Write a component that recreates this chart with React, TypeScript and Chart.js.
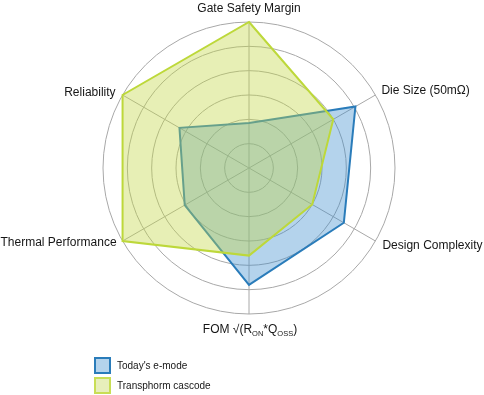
import React, { useEffect, useRef } from "react";
import { Chart, registerables } from "chart.js";

Chart.register(...registerables);

const categories = [
  "Gate Safety Margin",
  "Die Size (50mΩ)",
  "Design Complexity",
  "FOM",
  "Thermal Performance",
  "Reliability",
];
const eModeValues = [1.85, 5.05, 4.5, 4.8, 3.05, 3.3];
const cascodeValues = [6, 4.0, 3.0, 3.6, 6, 6];
const seriesNames = ["Today's e-mode", "Transphorm cascode"];
const scaleMax = 6;

const FONT = '"Liberation Sans", Arial, Helvetica, sans-serif';
const BLUE_LINE = "#2a7cba";
const BLUE_FILL = "rgba(58,140,205,0.38)";
const YEL_LINE = "#bdd83a";
const YEL_FILL = "rgba(195,215,70,0.4)";
const GRID = "#a8a8a8";

// per-label placement relative to the outer ring point: [dx, dy(baseline), align]
const labelPlacement: [number, number, CanvasTextAlign][] = [
  [0, -10, "center"],
  [6, -1, "left"],
  [7, 7.5, "left"],
  [1, 19, "center"],
  [-6, 5, "right"],
  [-7, 1, "right"],
];

const labelPlugin = {
  id: "radarLabels",
  afterDraw(chart: any) {
    const scale = chart.scales.r;
    const ctx = chart.ctx as CanvasRenderingContext2D;
    ctx.save();
    ctx.fillStyle = "#161616";
    ctx.textBaseline = "alphabetic";
    categories.forEach((label, i) => {
      const p = scale.getPointPosition(i, scale.drawingArea);
      const [dx, dy, align] = labelPlacement[i];
      const x = p.x + dx;
      const y = p.y + dy;
      if (i === 3) {
        const parts: [string, boolean][] = [
          ["FOM √(R", false],
          ["ON", true],
          ["*Q", false],
          ["OSS", true],
          [")", false],
        ];
        const widths = parts.map(([t, sub]) => {
          ctx.font = `${sub ? 7.5 : 12}px ${FONT}`;
          return ctx.measureText(t).width;
        });
        const total = widths.reduce((a, b) => a + b, 0);
        let cx = x - total / 2;
        ctx.textAlign = "left";
        parts.forEach(([t, sub], k) => {
          ctx.font = `${sub ? 7.5 : 12}px ${FONT}`;
          ctx.fillText(t, cx, y + (sub ? 2.5 : 0));
          cx += widths[k];
        });
      } else {
        ctx.font = `12px ${FONT}`;
        ctx.textAlign = align;
        ctx.fillText(label, x, y);
      }
    });
    ctx.restore();
  },
};

export default function App() {
  const ref = useRef<HTMLCanvasElement | null>(null);

  useEffect(() => {
    if (!ref.current) return;
    const chart = new Chart(ref.current, {
      type: "radar",
      data: {
        labels: categories,
        datasets: [
          {
            label: seriesNames[1],
            data: cascodeValues,
            borderColor: YEL_LINE,
            backgroundColor: YEL_FILL,
            borderWidth: 2,
            pointRadius: 0,
            fill: true,
          },
          {
            label: seriesNames[0],
            data: eModeValues,
            borderColor: BLUE_LINE,
            backgroundColor: BLUE_FILL,
            borderWidth: 2,
            pointRadius: 0,
            fill: true,
          },
        ],
      },
      options: {
        responsive: false,
        animation: false,
        devicePixelRatio: 1,
        layout: { padding: { left: 102, right: 88, top: 22, bottom: 80 } },
        plugins: {
          legend: { display: false },
          tooltip: { enabled: false },
        },
        elements: { line: { tension: 0 } },
        scales: {
          r: {
            min: 0,
            max: scaleMax,
            ticks: { display: false, stepSize: 1 },
            grid: { circular: true, color: GRID, lineWidth: 1 },
            angleLines: { color: GRID, lineWidth: 1 },
            pointLabels: { display: false },
          },
        },
      },
      plugins: [labelPlugin],
    });
    return () => chart.destroy();
  }, []);

  const legendItems = [
    { name: seriesNames[0], border: BLUE_LINE, fill: "#b4d3ec", top: 357 },
    { name: seriesNames[1], border: "#c8de55", fill: "#e7efbb", top: 377 },
  ];

  return (
    <div style={{ position: "fixed", left: 0, top: 0, width: 484, height: 395, background: "#fff" }}>
      <canvas ref={ref} width={484} height={395} style={{ display: "block" }} />
      {legendItems.map((it) => (
        <div key={it.name}>
          <div
            style={{
              position: "absolute",
              left: 94,
              top: it.top,
              width: 13,
              height: 13,
              border: `2px solid ${it.border}`,
              background: it.fill,
            }}
          />
          <div
            style={{
              position: "absolute",
              left: 117,
              top: it.top + 2,
              fontFamily: FONT,
              fontSize: 10,
              lineHeight: "13px",
              color: "#161616",
              whiteSpace: "nowrap",
            }}
          >
            {it.name}
          </div>
        </div>
      ))}
    </div>
  );
}
